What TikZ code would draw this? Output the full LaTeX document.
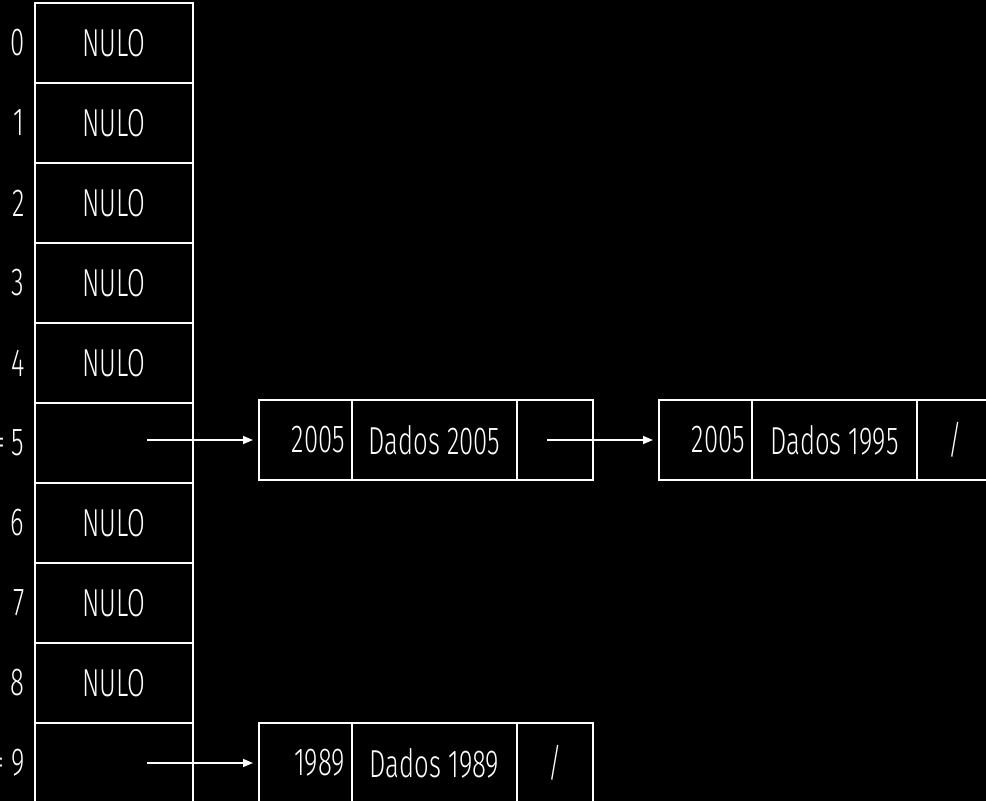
\documentclass[tikz,border=0pt]{standalone}
\usepackage{fontspec}
\setmainfont[FakeStretch=0.66, UprightFont=* Light]{Fira Sans}
\usetikzlibrary{arrows.meta,positioning}
\definecolor{fundo}{HTML}{000000}
\definecolor{traco}{HTML}{FFFFFF}

\tikzset{
  celula/.style={draw=traco, line width=1.6pt, inner sep=0pt, outer sep=0pt,
    minimum height=80pt, text=traco},
  slot/.style={celula, minimum width=158pt},
  chave/.style={celula, minimum width=93pt, text width=79pt, align=right},
  dados/.style={celula, minimum width=165pt},
  prox/.style={celula, minimum width=76pt},
  seta/.style={draw=traco, line width=1.6pt, -{Triangle[length=10pt,width=8pt]}, shorten >=6pt},
}

\begin{document}
\begin{tikzpicture}[x=1pt, y=-1pt, font=\fontsize{39}{42}\selectfont]
    \useasboundingbox (0,0) rectangle (986,801);
    \fill[fundo] (0,0) rectangle (986,801);
    \clip (0,0) rectangle (986,801);
    % tabela hash
    \foreach \i in {0,1,2,3,4,6,7,8} {
        \node[slot] (t\i) at (114,43+80*\i) {NULO};
        \node[text=traco, anchor=east] (r\i) at (28,43+80*\i) {\i};
    }
    \node[slot] (t5) at (114,443) {};
    \node[text=traco, anchor=east] (r5) at (28,443) {= 5};
    \node[slot] (t9) at (114,763) {};
    \node[text=traco, anchor=east] (r9) at (28,763) {= 9};
    % lista do indice 5
    \node[chave] (k1) at (305.5,440) {2005};
    \node[dados, right=0pt of k1] (d1) {Dados 2005};
    \node[prox, right=0pt of d1] (p1) {};
    \node[chave, right=66pt of p1] (k2) {2005};
    \node[dados, right=0pt of k2] (d2) {Dados 1995};
    \node[prox, right=0pt of d2] (p2) {/};
    % lista do indice 9
    \node[chave] (k3) at (305.5,763) {1989};
    \node[dados, right=0pt of k3] (d3) {Dados 1989};
    \node[prox, right=0pt of d3] (p3) {/};
    % ponteiros
    \coordinate (h5) at (147,440);
    \coordinate (h9) at (147,763);
    \coordinate (n1) at (547,440);
    \draw[seta] (h5) -- (k1.west);
    \draw[seta] (n1) -- (k2.west);
    \draw[seta] (h9) -- (k3.west);
\end{tikzpicture}
\end{document}
